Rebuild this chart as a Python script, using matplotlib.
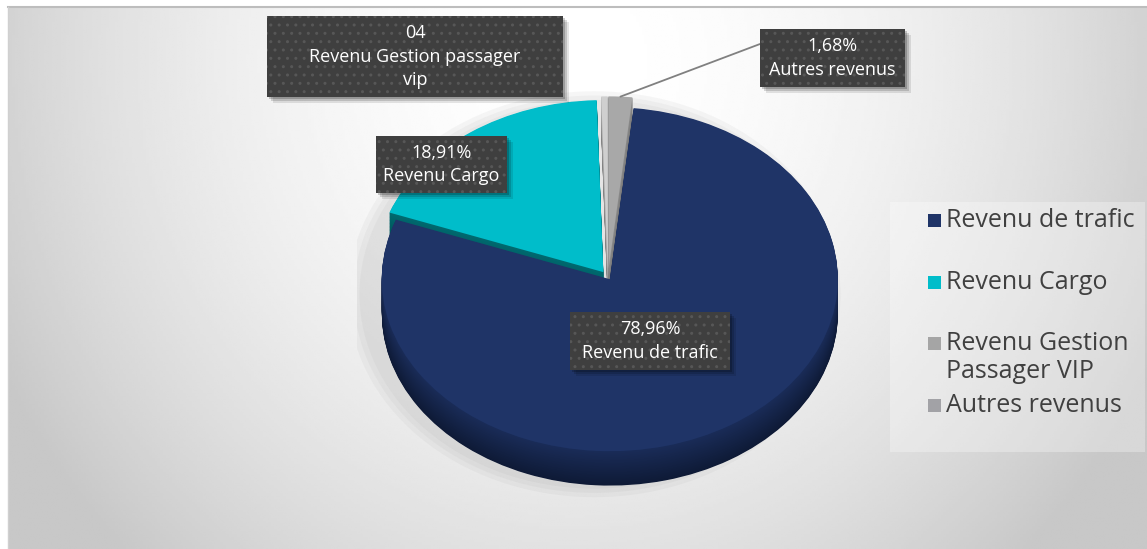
import numpy as np
import matplotlib.pyplot as plt
from matplotlib.patches import Rectangle, Ellipse

# données du graphique
categories = ['Revenu de trafic', 'Revenu Cargo', 'Revenu Gestion\nPassager VIP', 'Autres revenus']
values = [78.96, 18.91, 0.45, 1.68]
label_values = ['78,96%', '18,91%', '04', '1,68%']
label_names = ['Revenu de trafic', 'Revenu Cargo', 'Revenu Gestion passager\nvip', 'Autres revenus']

top_colors = ['#1f3467', '#00bdca', '#cfcfcf', '#a8a8a8']
side_top = ['#1a2c58', '#006a70', '#b0b0b0', '#8c8c8c']
side_bottom = ['#0e1a36', '#00484c', '#7a7a7a', '#6a6a6a']
legend_colors = ['#1f3467', '#00bdca', '#a5a5a5', '#a2a2a6']
explode = [0.015, 0.035, 0.05, 0.05]
START = 84

W, H = 1147, 549
FONT = 'Open Sans'


def fx(px):
    return px / W


def fy(py):
    return 1 - py / H


def mix(c1, c2, t):
    a = np.array(plt.matplotlib.colors.to_rgb(c1))
    b = np.array(plt.matplotlib.colors.to_rgb(c2))
    return tuple(a * (1 - t) + b * t)


fig = plt.figure(figsize=(W / 100, H / 100), dpi=100)
fig.patch.set_facecolor('white')

# fond dégradé radial
bg = fig.add_axes([fx(8), 0, 1 - fx(8), 1 - 7 / H])
xx, yy = np.meshgrid(np.linspace(8, W, 400), np.linspace(7, H, 200))
r = np.sqrt(((xx - 575) / 560) ** 2 + ((yy - 60) / 600) ** 2)
v = 1 - np.clip(0.167 * r ** 1.86, 0, 0.215)
bg.imshow(v, cmap='gray', vmin=0, vmax=1, aspect='auto', extent=[0, 1, 0, 1], interpolation='bilinear')
bg.set_axis_off()
fig.add_artist(plt.Line2D([fx(8), 1], [fy(7), fy(7)], color='#bdbdbd', lw=1.5))
fig.add_artist(plt.Line2D([fx(8), fx(8)], [0, fy(7)], color='#d0d0d0', lw=1))

# camembert 3D (couches empilées)
ax = fig.add_axes([357.2 / W, (H - 509.2) / H, 501.6 / W, 421.4 / H])
ax.patch.set_alpha(0)
# ombre douce à gauche
for s in [0.08, 0.055, 0.03]:
    ax.add_patch(Ellipse((-0.06, -0.1), 2.0 + s * 2, 2.2 + s * 2, color='#8a8a8a', alpha=0.07, lw=0))

depth = 0.2
layers = np.linspace(depth, 0.004, 45)
for d in layers:
    t = d / depth
    cols = [mix(a, b, t) for a, b in zip(side_top, side_bottom)]
    ax.pie(values, colors=cols, startangle=START, counterclock=False, explode=explode,
           center=(0, -d), wedgeprops=dict(linewidth=0), frame=False)
ax.pie(values, colors=top_colors, startangle=START, counterclock=False, explode=explode,
       center=(0, 0), wedgeprops=dict(linewidth=0), frame=False)
ax.set_aspect('auto')
ax.set_xlim(-1.1, 1.1)
ax.set_ylim(-1.35, 1.1)
ax.set_axis_off()

# ligne de rappel pour "Autres revenus"
cum = START - np.cumsum([0] + values[:-1]) / sum(values) * 360
mid = np.deg2rad(cum[3] - values[3] / sum(values) * 180)
pt = ((1 + explode[3]) * np.cos(mid), (1 + explode[3]) * np.sin(mid))
ax.annotate('', xy=pt, xycoords='data', xytext=(fx(760), fy(44)), textcoords='figure fraction',
            arrowprops=dict(arrowstyle='-', color='#808080', lw=1.3, shrinkA=0, shrinkB=0))

# étiquettes de données
boxes = [(570, 312, 730, 370), (376, 136, 507, 193), (267, 16, 563, 97), (760, 29, 905, 87)]
for (x0, y0, x1, y1), val, name in zip(boxes, label_values, label_names):
    for off, a in [(6, 0.10), (4, 0.15), (2, 0.2)]:
        fig.add_artist(Rectangle((fx(x0 + off), fy(y1 + off)), fx(x1 - x0), (y1 - y0) / H,
                                 facecolor='black', alpha=a, lw=0))
    fig.add_artist(Rectangle((fx(x0), fy(y1)), fx(x1 - x0), (y1 - y0) / H,
                             facecolor='#3f3f3f', edgecolor='#575757', hatch='..', lw=0))
    fig.text(fx((x0 + x1) / 2), fy((y0 + y1) / 2), val + '\n' + name, ha='center', va='center',
             color='white', fontsize=13, family=FONT, linespacing=1.4)

# légende
fig.add_artist(Rectangle((fx(890), fy(452)), fx(1145 - 890), 250 / H, facecolor='white', alpha=0.3, lw=0))
legend_base = [227, 289, 350, 412]
for cat, col, yb in zip(categories, legend_colors, legend_base):
    fig.add_artist(Rectangle((fx(928), fy(yb)), fx(13), 13 / H, facecolor=col, lw=0))
    for i, line in enumerate(cat.split('\n')):
        fig.text(fx(946), fy(yb + i * 28), line, ha='left', va='baseline', color='#404040',
                 fontsize=18, family=FONT)

fig.savefig('out.png', dpi=100)
